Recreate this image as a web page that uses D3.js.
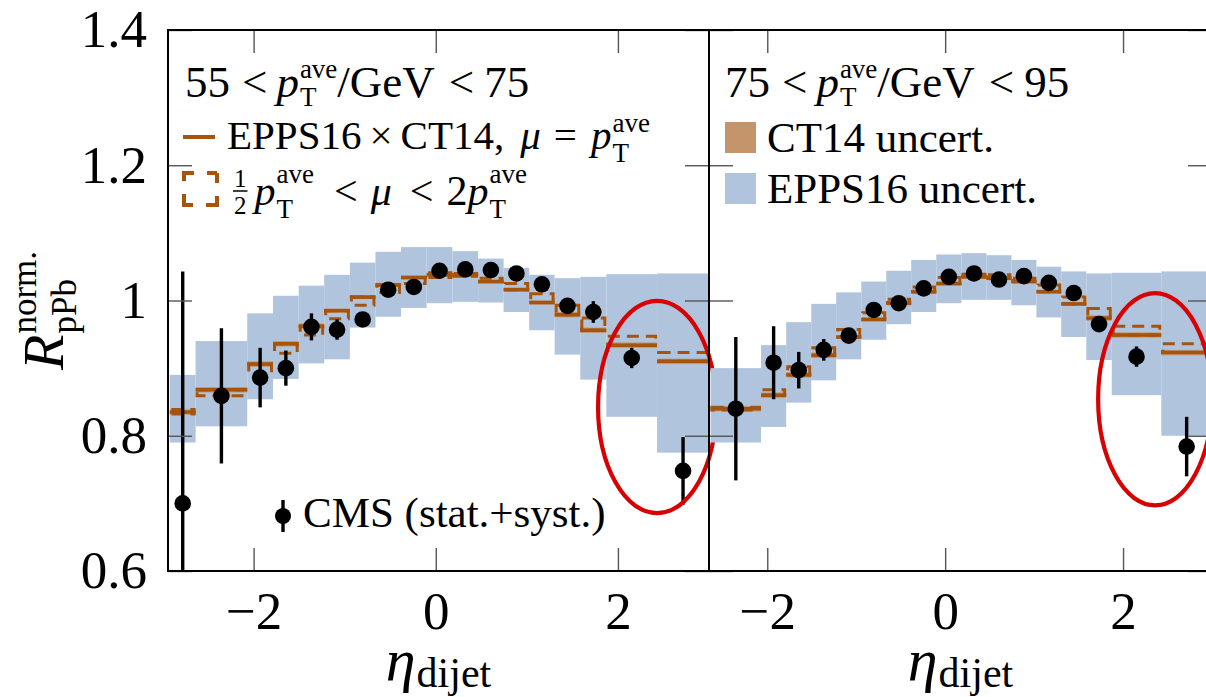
<html lang="en">
<head>
<style>
body { margin: 0; background: #fff; }
text { font-family: 'Liberation Serif', 'Times New Roman', serif; fill: #000; white-space: pre; }
</style>
</head>
<body>
</body>
<script type='text/javascript' src='https://d3js.org/d3.v7.min.js'></script>
<script>
var width = 1206, height = 697;

// bin edges in eta_dijet (left panel starts one bin further out)
const edgesL = [-2.92,-2.637,-2.07,-1.787,-1.505,-1.225,-0.943,-0.662,-0.382,-0.1,0.183,0.465,0.745,1.026,1.305,1.587,1.873,2.43,3.0];
const edgesR = [-2.637,-2.07,-1.787,-1.505,-1.225,-0.943,-0.662,-0.382,-0.1,0.183,0.465,0.745,1.026,1.305,1.587,1.873,2.43,3.0];

// 55 < pT/GeV < 75
const cmsL     = [0.700,0.859,0.886,0.900,0.961,0.957,0.972,1.016,1.020,1.044,1.046,1.045,1.040,1.024,0.992,0.983,0.915,0.748];
const cmsErrL  = [0.343,0.100,0.044,0.026,0.020,0.015,0.010,0.010,0.008,0.006,0.006,0.006,0.006,0.006,0.008,0.016,0.015,0.050];
const eppsLoL  = [0.790,0.814,0.854,0.884,0.907,0.913,0.960,0.976,0.989,0.996,0.998,0.997,0.983,0.956,0.920,0.883,0.828,0.775];
const eppsHiL  = [0.890,0.940,0.981,1.007,1.022,1.038,1.056,1.072,1.079,1.079,1.073,1.062,1.048,1.038,1.033,1.035,1.039,1.040];
const centL    = [0.835,0.868,0.906,0.936,0.962,0.985,1.005,1.023,1.034,1.038,1.038,1.028,1.016,0.997,0.979,0.956,0.934,0.910];
const ct14ErrL = [0.004,0.004,0.004,0.004,0.004,0.003,0.003,0.003,0.003,0.003,0.003,0.003,0.003,0.003,0.004,0.004,0.004,0.004];
const scaleLoL = [0.832,0.859,0.892,0.922,0.949,0.973,0.993,1.012,1.025,1.034,1.036,1.028,1.016,0.997,0.979,0.956,0.934,0.910];
const scaleHiL = [0.839,0.868,0.906,0.936,0.962,0.985,1.005,1.023,1.034,1.041,1.040,1.033,1.025,1.010,0.993,0.974,0.947,0.923];

// 75 < pT/GeV < 95
const cmsR     = [0.840,0.908,0.897,0.927,0.948,0.986,0.996,1.018,1.035,1.040,1.031,1.036,1.026,1.011,0.965,0.917,0.784];
const cmsErrR  = [0.106,0.054,0.027,0.016,0.010,0.008,0.006,0.005,0.005,0.005,0.005,0.005,0.006,0.008,0.010,0.015,0.044];
const eppsLoR  = [0.790,0.813,0.849,0.882,0.913,0.942,0.965,0.983,0.996,1.001,1.001,0.993,0.975,0.946,0.912,0.860,0.800];
const eppsHiR  = [0.900,0.934,0.968,0.995,1.012,1.028,1.044,1.060,1.068,1.070,1.067,1.060,1.050,1.043,1.040,1.041,1.043];
const centR    = [0.840,0.860,0.890,0.919,0.946,0.972,0.996,1.013,1.025,1.035,1.033,1.028,1.013,0.995,0.974,0.949,0.923];
const ct14ErrR = [0.004,0.004,0.004,0.004,0.003,0.003,0.003,0.003,0.003,0.003,0.003,0.003,0.003,0.003,0.004,0.004,0.004];
const scaleLoR = [0.838,0.860,0.890,0.919,0.946,0.972,0.996,1.013,1.025,1.035,1.033,1.028,1.013,0.995,0.974,0.949,0.923];
const scaleHiR = [0.842,0.868,0.902,0.930,0.957,0.982,1.002,1.020,1.034,1.039,1.038,1.033,1.023,1.005,0.988,0.962,0.936];

const yTicks = [0.6,0.8,1.0,1.2,1.4];
const xTicks = [-2,0,2];

// red ellipses (eta, R, half-width in eta, half-height in R)
const ringL = [2.43, 0.8425, 0.648, 0.157];
const ringR = [2.36, 0.854, 0.64, 0.157];

const blue = '#b0c4de', tan = '#c4956a', brown = '#a5540e', red = '#d80000';

var svg = d3.select('body').append('svg').attr('width',width).attr('height',height);

var y = d3.scaleLinear().domain([0.6,1.4]).range([571,30]);

var panels = [
  {x0:168, x1:709, dom:[-2.94,3.0], edges:edgesL, cms:cmsL, err:cmsErrL, lo:eppsLoL, hi:eppsHiL,
   cent:centL, ct:ct14ErrL, slo:scaleLoL, shi:scaleHiL, ring:ringL},
  {x0:709, x1:1212, dom:[-2.655,3.0], edges:edgesR, cms:cmsR, err:cmsErrR, lo:eppsLoR, hi:eppsHiR,
   cent:centR, ct:ct14ErrR, slo:scaleLoR, shi:scaleHiR, ring:ringR}
];

// --- text helpers
function put(g, x, yy, t, size, italic) {
  var el = g.append('text').attr('x',x).attr('y',yy).attr('font-size',size)
    .attr('font-style', italic ? 'italic' : 'normal').text(t);
  return el.node().getComputedTextLength();
}
// base letter with stacked super/subscript, kept in one text element
function scripted(g, x, base, s, italic, sup, sub, ss, up, down) {
  var t = g.append('text').attr('x',x).attr('y',0);
  var b = t.append('tspan').attr('font-size',s).attr('font-style', italic ? 'italic' : 'normal').text(base);
  var wb = b.node().getComputedTextLength() + 1;
  var wa = 0, wc = 0;
  if (sup) wa = t.append('tspan').attr('x', x+wb).attr('y',-up).attr('font-size',ss).text(sup).node().getComputedTextLength();
  if (sub) wc = t.append('tspan').attr('x', x+wb).attr('y',down).attr('font-size',ss).text(sub).node().getComputedTextLength();
  return wb + Math.max(wa, wc);
}
function rich(parent, x, yy, segs) {
  var g = parent.append('g').attr('transform','translate('+x+','+yy+')');
  var cx = 0;
  segs.forEach(function(s) {
    if (s.sc) {
      cx += scripted(g, cx, s.sc, s.s, s.i, s.sup, s.sub, s.ss, s.up, s.down);
    } else if (s.frac) {
      var fw = put(g, cx+1, -18, s.frac[0], s.s);
      put(g, cx+1, 9, s.frac[1], s.s);
      g.append('line').attr('x1',cx).attr('x2',cx+fw+2).attr('y1',-14).attr('y2',-14)
        .attr('stroke','#000').attr('stroke-width',1.5);
      cx += fw + 2;
    } else {
      cx += put(g, cx, s.dy || 0, s.t, s.s, s.i);
    }
    cx += s.gap || 0;
  });
  return {g: g, w: cx};
}
function pT(s, ss, up, down, gap) {
  return {sc:'p', i:true, sup:'ave', sub:'T', s:s, ss:ss, up:up, down:down, gap:gap || 0};
}

panels.forEach(function(p, k) {
  var x = d3.scaleLinear().domain(p.dom).range([p.x0, p.x1]);
  svg.append('clipPath').attr('id','clip'+k).append('rect')
    .attr('x',p.x0).attr('y',30).attr('width',p.x1-p.x0).attr('height',541);
  var g = svg.append('g').attr('clip-path','url(#clip'+k+')');
  var bins = d3.range(p.cms.length);
  var x0 = i => x(p.edges[i]), x1 = i => x(p.edges[i+1]);
  var xc = i => x((p.edges[i]+p.edges[i+1])/2);

  // EPPS16 band
  g.selectAll('rect.epps').data(bins).join('rect').attr('class','epps')
    .attr('x', x0).attr('width', i => x1(i)-x0(i))
    .attr('y', i => y(p.hi[i])).attr('height', i => y(p.lo[i])-y(p.hi[i]))
    .attr('fill', blue);
  // CT14 band
  g.selectAll('rect.ct').data(bins).join('rect').attr('class','ct')
    .attr('x', x0).attr('width', i => x1(i)-x0(i))
    .attr('y', i => y(p.cent[i]+p.ct[i])).attr('height', i => y(p.cent[i]-p.ct[i])-y(p.cent[i]+p.ct[i]))
    .attr('fill', tan);
  // scale variation boxes
  g.selectAll('rect.sc').data(bins).join('rect').attr('class','sc')
    .attr('x', i => x0(i)+1.5).attr('width', i => x1(i)-x0(i)-3)
    .attr('y', i => y(p.shi[i])).attr('height', i => Math.max(1, y(p.slo[i])-y(p.shi[i])))
    .attr('fill','none').attr('stroke', brown).attr('stroke-width',3)
    .attr('stroke-dasharray','12,7');
  // central
  g.selectAll('line.c').data(bins).join('line').attr('class','c')
    .attr('x1', x0).attr('x2', x1)
    .attr('y1', i => y(p.cent[i])).attr('y2', i => y(p.cent[i]))
    .attr('stroke', brown).attr('stroke-width',3.5);
  // CMS points
  g.selectAll('line.e').data(bins).join('line').attr('class','e')
    .attr('x1', xc).attr('x2', xc)
    .attr('y1', i => y(p.cms[i]+p.err[i])).attr('y2', i => y(p.cms[i]-p.err[i]))
    .attr('stroke','#000').attr('stroke-width',3.4);
  g.selectAll('circle').data(bins).join('circle')
    .attr('cx', xc).attr('cy', i => y(p.cms[i]))
    .attr('r', 8.3).attr('fill','#000');

  // axes
  function style(a) {
    a.select('.domain').remove();
    a.selectAll('line').attr('stroke','#555').attr('stroke-width',1.4);
    a.selectAll('text').attr('font-size',53).attr('fill','#000');
  }
  var fx = d => d < 0 ? '\u2212' + (-d) : String(d);
  svg.append('g').attr('transform','translate(0,571)')
    .call(d3.axisBottom(x).tickValues(xTicks).tickSize(-23).tickPadding(20).tickFormat(fx)).call(style);
  svg.append('g').attr('transform','translate(0,30)')
    .call(d3.axisTop(x).tickValues(xTicks).tickSize(-23).tickFormat('')).call(style);
  svg.append('g').attr('transform','translate('+p.x0+',0)')
    .call(d3.axisLeft(y).tickValues(yTicks).tickSize(-24).tickPadding(21)
      .tickFormat(k === 0 ? (d => d === 1 ? '1' : d.toFixed(1)) : '')).call(style);
  svg.append('g').attr('transform','translate('+p.x1+',0)')
    .call(d3.axisRight(y).tickValues(yTicks).tickSize(-24).tickFormat('')).call(style);

  svg.append('rect').attr('x',p.x0).attr('y',30).attr('width',p.x1-p.x0).attr('height',541)
    .attr('fill','none').attr('stroke','#000').attr('stroke-width',2);

  // highlight
  svg.append('ellipse')
    .attr('cx', x(p.ring[0])).attr('cy', y(p.ring[1]))
    .attr('rx', x(p.ring[0]+p.ring[2]) - x(p.ring[0])).attr('ry', y(p.ring[1]-p.ring[3]) - y(p.ring[1]))
    .attr('fill','none').attr('stroke', red).attr('stroke-width',4.2);

  // x label
  var lab = rich(svg, 0, 0, [{sc:'η', i:true, s:60, sup:'', sub:'dijet', ss:42, up:0, down:7}]);
  lab.g.attr('transform','translate('+((p.x0+p.x1)/2 - lab.w/2)+',680)');
});

// panel titles
function title(lo, hi) {
  return [{t:lo, s:45, gap:12}, {t:'<', s:45, gap:9}, pT(45,27,19,9),
    {t:'/GeV', s:45, gap:14}, {t:'<', s:45, gap:10}, {t:hi, s:45}];
}
rich(svg, 185, 97, title('55', '75'));
rich(svg, 725, 97, title('75', '95'));

// left legend
svg.append('line').attr('x1',183).attr('x2',215).attr('y1',137).attr('y2',137)
  .attr('stroke',brown).attr('stroke-width',4);
rich(svg, 227, 149, [{t:'EPPS16', s:41, gap:8}, {t:'×', s:41, gap:8}, {t:'CT14,', s:41, gap:16},
  {t:'μ', s:41, i:true, gap:13}, {t:'=', s:41, gap:14}, pT(41,27,17,13)]);
svg.append('rect').attr('x',184).attr('y',173).attr('width',33).attr('height',32)
  .attr('fill','none').attr('stroke',brown).attr('stroke-width',4).attr('stroke-dasharray','10,13,10,0');
rich(svg, 233, 205, [{frac:['1','2'], s:25, gap:7}, pT(42,27,22,13,20),
  {t:'<', s:42, gap:13}, {t:'μ', s:42, i:true, gap:18}, {t:'<', s:42, gap:13}, {t:'2', s:42},
  pT(42,27,22,13)]);

// right legend
svg.append('rect').attr('x',725).attr('y',122).attr('width',31).attr('height',31).attr('fill',tan);
svg.append('rect').attr('x',725).attr('y',173).attr('width',31).attr('height',31).attr('fill',blue);
rich(svg, 767, 152, [{t:'CT14 uncert.', s:43}]);
rich(svg, 767, 203, [{t:'EPPS16 uncert.', s:43}]);

// CMS legend
svg.append('line').attr('x1',283).attr('x2',283).attr('y1',500).attr('y2',532)
  .attr('stroke','#000').attr('stroke-width',3.4);
svg.append('circle').attr('cx',283).attr('cy',516).attr('r',8).attr('fill','#000');
rich(svg, 303, 527, [{t:'CMS (stat.+syst.)', s:43}]);

// y label
var yl = svg.append('g').attr('transform','translate(63,370) rotate(-90)');
rich(yl, 0, 0, [{sc:'R', i:true, s:58, sup:'norm.', sub:'pPb', ss:35, up:27, down:13}]);

console.log('ready..');
</script>
</html>
